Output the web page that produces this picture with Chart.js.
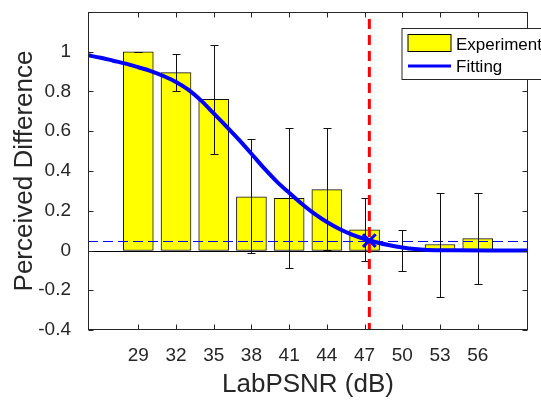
<!DOCTYPE html>
<html>
<head>
<meta charset="utf-8">
<script src="https://cdn.jsdelivr.net/npm/chart.js@4/dist/chart.umd.min.js"></script>
<style>
  body { margin: 0; background: #fff; }
  canvas { display: block; }
</style>
</head>
<body>
<canvas id="chart" width="541" height="400"></canvas>
<script>
// experiment: mean perceived difference per LabPSNR level, with error bar ends
const labPsnr = [29, 32, 35, 38, 41, 44, 47, 50, 53, 56];
const meanDiff = [1.0, 0.895, 0.76, 0.27, 0.263, 0.306, 0.104, 0, 0.03, 0.06];
const errHigh = [1.0, 0.99, 1.035, 0.561, 0.614, 0.614, 0.263, 0.104, 0.289, 0.289];
const errLow = [1.0, 0.80, 0.485, -0.015, -0.089, 0.003, -0.053, -0.104, -0.234, -0.17];

// fitted curve
const fitX = [25, 26, 27, 28, 29, 30, 31, 32, 33, 34, 35, 36, 37, 38, 39, 40, 41, 42,
  43, 44, 45, 46, 47, 48, 49, 50, 51, 52, 54, 57, 60];
const fitY = [0.982, 0.97, 0.955, 0.94, 0.922, 0.903, 0.878, 0.848, 0.808, 0.754, 0.69,
  0.625, 0.558, 0.487, 0.414, 0.348, 0.29, 0.235, 0.185, 0.143, 0.108, 0.08, 0.058,
  0.04, 0.026, 0.015, 0.007, 0.003, 0.001, 0, 0];

// threshold
const threshX = 47.38;
const threshY = 0.05;

const xTicks = [29, 32, 35, 38, 41, 44, 47, 50, 53, 56];
const yTicks = [-0.4, -0.2, 0, 0.2, 0.4, 0.6, 0.8, 1];

const FONT = "'Liberation Sans', Arial, Helvetica, sans-serif";
const TXT = "#262626";

function seg(ctx, x1, y1, x2, y2) {
  ctx.beginPath();
  ctx.moveTo(x1, y1);
  ctx.lineTo(x2, y2);
  ctx.stroke();
}

// ref lines + error bars, drawn right after the bars (under the curve)
const extras = {
  id: "extras",
  afterDatasetDraw(chart, args) {
    if (args.index !== 0) return;
    const { ctx, chartArea: a, scales: { x, y } } = chart;
    ctx.save();
    ctx.beginPath();
    ctx.rect(a.left, a.top, a.width, a.height);
    ctx.clip();

    // zero line
    ctx.strokeStyle = "#000";
    ctx.lineWidth = 1;
    const y0 = Math.round(y.getPixelForValue(0)) + 0.5;
    seg(ctx, a.left, y0, a.right, y0);

    // horizontal threshold
    ctx.strokeStyle = "#0000ff";
    ctx.setLineDash([10, 5]);
    const yt = Math.round(y.getPixelForValue(threshY)) + 0.5;
    seg(ctx, a.left, yt, a.right, yt);
    ctx.setLineDash([]);

    // error bars
    ctx.strokeStyle = "#111";
    labPsnr.forEach((v, i) => {
      const px = Math.round(x.getPixelForValue(v)) + 0.5;
      const hi = Math.round(y.getPixelForValue(errHigh[i])) + 0.5;
      const lo = Math.round(y.getPixelForValue(errLow[i])) + 0.5;
      seg(ctx, px, hi, px, lo);
      seg(ctx, px - 4, hi, px + 4, hi);
      seg(ctx, px - 4, lo, px + 4, lo);
    });

    // vertical threshold
    ctx.strokeStyle = "#ff0000";
    ctx.lineWidth = 3;
    ctx.setLineDash([10, 6]);
    ctx.lineDashOffset = 9;
    const xt = x.getPixelForValue(threshX);
    seg(ctx, xt, a.top, xt, a.bottom);
    ctx.restore();
  },
  afterDatasetsDraw(chart) {
    const { ctx, chartArea: a, scales: { x, y } } = chart;
    ctx.save();
    ctx.strokeStyle = TXT;
    ctx.lineWidth = 1;
    const L = a.left + 0.5, R = a.right - 0.5, T = a.top + 0.5, B = a.bottom - 0.5;
    ctx.strokeRect(L, T, R - L, B - T);
    // inward ticks on all four sides
    xTicks.forEach(v => {
      const px = Math.round(x.getPixelForValue(v)) + 0.5;
      seg(ctx, px, B, px, B - 5);
      seg(ctx, px, T, px, T + 5);
    });
    yTicks.forEach(v => {
      const py = Math.round(y.getPixelForValue(v)) + 0.5;
      seg(ctx, L, py, L + 5, py);
      seg(ctx, R, py, R - 5, py);
    });
    ctx.restore();
  },
  afterDraw(chart) {
    // legend box inside the plot, top right
    const { ctx, chartArea: a } = chart;
    const bx = a.right - 126, by = a.top + 16.5;
    ctx.save();
    ctx.fillStyle = "#fff";
    ctx.fillRect(bx, by, 170, 51);
    ctx.strokeStyle = TXT;
    ctx.lineWidth = 1;
    ctx.strokeRect(bx, by, 170, 51);

    const bars = chart.data.datasets[0];
    const fit = chart.data.datasets[1];
    ctx.fillStyle = bars.backgroundColor;
    ctx.fillRect(bx + 6, by + 6, 43, 17);
    ctx.strokeStyle = "#000";
    ctx.strokeRect(bx + 6, by + 6, 43, 17);

    ctx.strokeStyle = fit.borderColor;
    ctx.lineWidth = 3;
    seg(ctx, bx + 6, by + 37.5, bx + 49, by + 37.5);

    ctx.fillStyle = "#000";
    ctx.font = "17px " + FONT;
    ctx.textBaseline = "alphabetic";
    ctx.fillText(bars.label, bx + 54, by + 21);
    ctx.fillText(fit.label, bx + 54, by + 43.5);
    ctx.restore();
  }
};

new Chart(document.getElementById("chart"), {
  type: "bar",
  data: {
    datasets: [
      {
        label: "Experiment",
        data: labPsnr.map((v, i) => ({ x: v, y: meanDiff[i] })),
        backgroundColor: "#ffff00",
        borderColor: "#111",
        borderWidth: 1,
        borderSkipped: false,
        barThickness: 30,
        order: 3
      },
      {
        type: "line",
        label: "Fitting",
        data: fitX.map((v, i) => ({ x: v, y: fitY[i] })),
        borderColor: "#0000ff",
        borderWidth: 4,
        pointRadius: 0,
        cubicInterpolationMode: "monotone",
        fill: false,
        order: 2
      },
      {
        type: "line",
        label: "Threshold",
        data: [{ x: threshX, y: threshY }],
        showLine: false,
        pointStyle: "crossRot",
        pointRadius: 9,
        pointBorderWidth: 3,
        borderColor: "#0000ff",
        backgroundColor: "#0000ff",
        order: 1
      }
    ]
  },
  options: {
    responsive: false,
    animation: false,
    devicePixelRatio: 1,
    layout: { padding: { top: 6, right: 13, left: 0, bottom: 0 } },
    plugins: { legend: { display: false }, tooltip: { enabled: false } },
    scales: {
      x: {
        type: "linear",
        min: 25,
        max: 60,
        offset: false,
        afterBuildTicks: s => { s.ticks = xTicks.map(v => ({ value: v })); },
        afterFit: s => { s.height = 70; s.paddingLeft = 0; s.paddingRight = 0; },
        grid: { display: false },
        border: { display: false },
        ticks: {
          color: TXT,
          font: { size: 19, family: FONT },
          padding: 6,
          maxRotation: 0,
          autoSkip: false,
          callback: v => String(v)
        },
        title: {
          display: true,
          text: "LabPSNR (dB)",
          color: TXT,
          font: { size: 26, family: FONT },
          padding: { top: 1, bottom: 0 }
        }
      },
      y: {
        min: -0.4,
        max: 1.2,
        afterBuildTicks: s => { s.ticks = yTicks.map(v => ({ value: v })); },
        afterFit: s => { s.width = 88; s.paddingTop = 0; s.paddingBottom = 0; },
        grid: { display: false },
        border: { display: false },
        ticks: {
          color: TXT,
          font: { size: 19, family: FONT },
          padding: 9,
          callback: v => String(Math.round(v * 10) / 10)
        },
        title: {
          display: true,
          text: "Perceived Difference",
          color: TXT,
          font: { size: 26, family: FONT },
          padding: { top: 9, bottom: 0 }
        }
      }
    }
  },
  plugins: [extras]
});
</script>
</body>
</html>
